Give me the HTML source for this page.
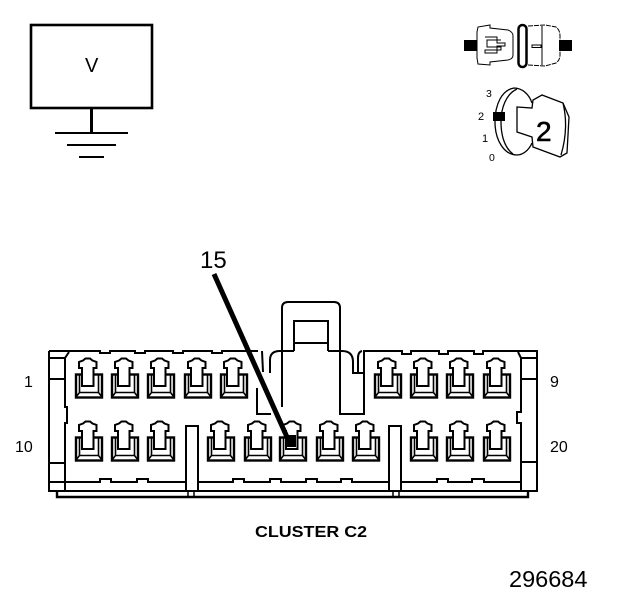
<!DOCTYPE html>
<html><head><meta charset="utf-8"><style>html,body{margin:0;padding:0;background:#fff}svg{display:block}text{font-family:"Liberation Sans",sans-serif;fill:#000}</style></head><body>
<svg width="624" height="600" viewBox="0 0 624 600" xmlns="http://www.w3.org/2000/svg" xmlns:xlink="http://www.w3.org/1999/xlink">
<defs>
<g id="t" fill="none" stroke="#000">
<rect x="1" y="17.500" width="26" height="23" stroke-width="2.400" fill="#fff"/>
<path d="M4.500 17V35.500H23.500V17M1 40L4.500 35.500M27 40L23.500 35.500" stroke-width="1.600"/>
<path d="M7 29V11H4V5L8 3.500L10.500 1.500H15L17.500 3.500L21.500 5V11H18.500V29Z" fill="#fff" stroke-width="2"/>
</g>
</defs>
<!-- V box -->
<rect x="31" y="25" width="121" height="83" fill="none" stroke="#000" stroke-width="2.600"/>
<path d="M91.500 108V133" stroke="#000" stroke-width="3" fill="none"/>
<path d="M55 133H128M67 145H116M79 157H104" stroke="#000" stroke-width="2" fill="none"/>
<text x="85" y="72" font-size="20">V</text>
<!-- switch icon top -->
<g fill="none" stroke="#000" stroke-width="1">
<rect x="464" y="40" width="13" height="11" fill="#000" stroke="none"/>
<rect x="559" y="40" width="13" height="11" fill="#000" stroke="none"/>
<path d="M477 32L478 27L490 25L490 28L508 30Q513 32 513 36V55Q513 59 508 60L490 62L490 65L478 64L477 58V32Z"/>
<path d="M485 37H497V43H505V46H497V53H485V50H501V47H487V40H501"/>
<rect x="518.500" y="25" width="8" height="42" rx="4" stroke-width="2.500"/>
<path d="M528 26L545 25L556 27Q560 30 560 36V55Q560 60 556 63L545 66L528 65" stroke-dasharray="5 1"/>
<path d="M542 26V65"/>
<rect x="532" y="45" width="9" height="2.500"/>
</g>
<text x="486" y="97" font-size="10.500">3</text>
<text x="478" y="120" font-size="11">2</text>
<text x="482" y="142" font-size="11">1</text>
<text x="489" y="161" font-size="10.500">0</text>
<g fill="none" stroke="#000" stroke-width="1.300">
<path d="M532 103C529 94 522 88 514 88C502 90 495 104 495 122C495 140 504 155 517 155C523 155 529 150 532 143"/>
<path d="M517 89C506 94 501 108 501 122C501 138 506 149 513 154"/>
<path d="M517 107L532 108L533 100L542 95L563 103L569 117L567 153L560 157L533 147L532 137L517 132Z"/>
<path d="M563 103Q569 128 561 155"/>
</g>
<rect x="493" y="112" width="12" height="9" fill="#000"/>
<text x="536" y="141" font-size="28" stroke="#000" stroke-width="0.600">2</text>
<!-- connector body -->
<g fill="none" stroke="#000" stroke-width="2">
<path d="M49 351V491H537V351H518"/>
<path d="M49 351H100V353H110V351H135V353H145V351H173V353H183V351H212V353H222V351H258"/>
<path d="M363 351H402V354H411V351H439V354H448V351H474V354H483V351H522"/>
<path d="M65 358L69 352M65 358V407H67V423H65V491"/>
<path d="M521 358L518 352M521 358V412H517V423H521V491"/>
<path d="M49 358H65M49 379H65M49 463H65M521 358H537M521 379H537M521 462H537"/>
<path d="M49 482H100V479H111V482H137V479H148V482H233V479H244V482H270V479H281V482H306V479H317V482H341V479H352V482H437V479H448V482H472V479H484V482H521"/>
<path d="M57 491V497H528V491" stroke-width="2.400"/>
<path d="M188 491V497M194 491V497M393 491V497M399 491V497" stroke-width="1.500"/>
<rect x="186" y="426" width="12" height="65" fill="#fff"/>
<rect x="389" y="426" width="12" height="65" fill="#fff"/>
<!-- latch -->
<path d="M282 407V308Q282 302 288 302H334Q340 302 340 308V414H364V352"/>
<path d="M294 351V321H328V351M294 343H328"/>
<path d="M270 373V360Q270 351 280 351H294M328 351H342Q353 351 353 362V373H364M358 373V358Q358 352 362 351"/>
<path d="M257 388V414H271M262 351L263 372"/>
</g>
<!-- terminals -->
<use xlink:href="#t" x="75" y="357"/><use xlink:href="#t" x="111" y="357"/><use xlink:href="#t" x="147" y="357"/><use xlink:href="#t" x="184" y="357"/><use xlink:href="#t" x="220" y="357"/>
<use xlink:href="#t" x="374" y="357"/><use xlink:href="#t" x="410" y="357"/><use xlink:href="#t" x="446" y="357"/><use xlink:href="#t" x="483" y="357"/>
<use xlink:href="#t" x="75" y="420"/><use xlink:href="#t" x="111" y="420"/><use xlink:href="#t" x="147" y="420"/><use xlink:href="#t" x="207" y="420"/><use xlink:href="#t" x="244" y="420"/><use xlink:href="#t" x="279" y="420"/><use xlink:href="#t" x="316" y="420"/><use xlink:href="#t" x="352" y="420"/>
<use xlink:href="#t" x="410" y="420"/><use xlink:href="#t" x="446" y="420"/><use xlink:href="#t" x="483" y="420"/>
<!-- leader -->
<path d="M214 274L291 446" stroke="#000" stroke-width="5" fill="none"/>
<rect x="286" y="435" width="10" height="12" fill="#000"/>
<!-- labels -->
<text x="200" y="268" font-size="24">15</text>
<text x="24" y="387" font-size="16">1</text>
<text x="550" y="387" font-size="16">9</text>
<text x="15" y="452" font-size="16">10</text>
<text x="550" y="452" font-size="16">20</text>
<text x="255" y="537" font-size="16" font-weight="bold" textLength="112" lengthAdjust="spacingAndGlyphs">CLUSTER C2</text>
<text x="509" y="587" font-size="23.500">296684</text>
</svg>
</body></html>
